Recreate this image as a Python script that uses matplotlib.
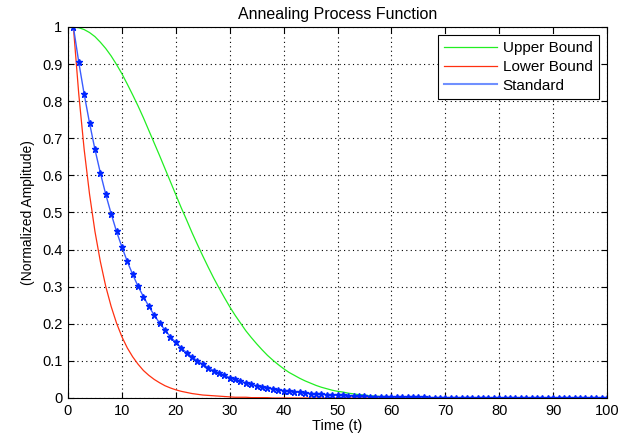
import numpy as np
import matplotlib
matplotlib.use("Agg")
import matplotlib.pyplot as plt

# -----------------------------
# Data
# -----------------------------
t = np.arange(1, 101)

standard = [1.000, 0.905, 0.819, 0.741, 0.670, 0.607, 0.549, 0.497, 0.449, 0.407,
            0.368, 0.333, 0.301, 0.273, 0.247, 0.223, 0.202, 0.183, 0.165, 0.150,
            0.135, 0.122, 0.111, 0.100, 0.091, 0.082, 0.074, 0.067, 0.061, 0.055,
            0.050, 0.045, 0.041, 0.037, 0.033, 0.030, 0.027, 0.025, 0.022, 0.020,
            0.018, 0.017, 0.015, 0.014, 0.012, 0.011, 0.010, 0.009, 0.008, 0.007,
            0.007, 0.006, 0.006, 0.005, 0.005, 0.004, 0.004, 0.003, 0.003, 0.003,
            0.002, 0.002, 0.002, 0.002, 0.002, 0.002, 0.001, 0.001, 0.001, 0.001,
            0.001, 0.001, 0.001, 0.001, 0.001, 0.001, 0.000, 0.000, 0.000, 0.000,
            0.000, 0.000, 0.000, 0.000, 0.000, 0.000, 0.000, 0.000, 0.000, 0.000,
            0.000, 0.000, 0.000, 0.000, 0.000, 0.000, 0.000, 0.000, 0.000, 0.000]

lower = [1.000, 0.819, 0.670, 0.549, 0.449, 0.368, 0.301, 0.247, 0.202, 0.165,
         0.135, 0.111, 0.091, 0.074, 0.061, 0.050, 0.041, 0.033, 0.027, 0.022,
         0.018, 0.015, 0.012, 0.010, 0.008, 0.007, 0.006, 0.005, 0.004, 0.003,
         0.002, 0.002, 0.002, 0.001, 0.001, 0.001, 0.001, 0.000, 0.000, 0.000] + [0.0] * 60

upper = [1.000, 0.998, 0.993, 0.985, 0.974, 0.959, 0.942, 0.922, 0.899, 0.874,
         0.846, 0.817, 0.787, 0.755, 0.721, 0.687, 0.653, 0.618, 0.583, 0.548,
         0.513, 0.480, 0.446, 0.414, 0.383, 0.353, 0.324, 0.297, 0.271, 0.246,
         0.223, 0.202, 0.181, 0.163, 0.146, 0.130, 0.115, 0.102, 0.090, 0.079,
         0.069, 0.061, 0.053, 0.046, 0.040, 0.034, 0.029, 0.025, 0.021, 0.018,
         0.016, 0.013, 0.011, 0.009, 0.008, 0.006, 0.005, 0.004, 0.004, 0.003,
         0.002, 0.002, 0.001, 0.001, 0.001, 0.001, 0.000, 0.000, 0.000, 0.000] + [0.0] * 30

xticks = np.arange(0, 101, 10)
yticks = np.round(np.arange(0, 1.01, 0.1), 1)
ytick_labels = ["0", "0.1", "0.2", "0.3", "0.4", "0.5", "0.6", "0.7", "0.8", "0.9", "1"]

# -----------------------------
# Plot
# -----------------------------
plt.rcParams['font.family'] = ['Liberation Sans', 'DejaVu Sans']
plt.rcParams['font.size'] = 10

fig = plt.figure(figsize=(6.39, 4.43), dpi=100)
ax = fig.add_axes([0.1064, 0.1016, 0.8436, 0.8375])

ax.plot(t, upper, color='#22ee22', lw=0.9, label='Upper Bound')
ax.plot(t, lower, color='#ff3010', lw=0.9, label='Lower Bound')
ax.plot(t, standard, color='#3a5cff', lw=1.0, marker='*', markersize=5,
        markerfacecolor='#0025ff', markeredgecolor='#0025ff', label='Standard')

ax.set_xlim(0, 100)
ax.set_ylim(0, 1)
ax.set_xticks(xticks)
ax.set_yticks(yticks)
ax.set_yticklabels(ytick_labels)
ax.tick_params(direction='in', top=True, right=True, length=4, width=0.8,
               labelsize=10.5, pad=4)
ax.grid(True, linestyle=(0, (1, 3)), color='black', linewidth=0.8)
for s in ax.spines.values():
    s.set_linewidth(0.8)

ax.set_title("Annealing Process Function", fontsize=11.5, pad=6)
ax.set_xlabel("Time (t)", fontsize=10.5, labelpad=1)
ax.set_ylabel("(Normalized Amplitude)", fontsize=10, labelpad=5)

leg = ax.legend(loc='upper right', fancybox=False, framealpha=1, edgecolor='black',
                fontsize=11, handlelength=3.5, borderaxespad=0.55,
                labelspacing=0.3, handletextpad=0.35, borderpad=0.4)
leg.get_frame().set_linewidth(0.8)
# legend shows the line only for Standard
leg.legend_handles[2].set_marker('')
leg.legend_handles[2].set_color('#7090ff')
leg.legend_handles[2].set_linewidth(1.5)

fig.savefig("out.png", dpi=100)
